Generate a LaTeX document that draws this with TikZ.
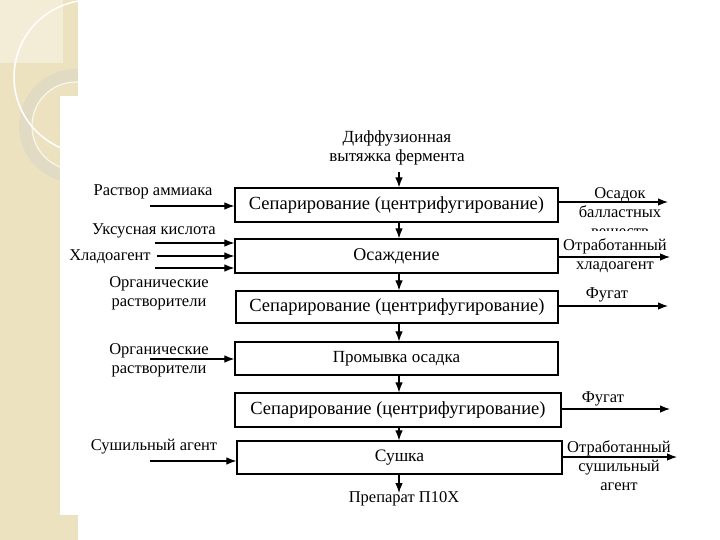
\documentclass[tikz,border=0pt]{standalone}
\usepackage{fontspec}
\setmainfont{Liberation Serif}
\usetikzlibrary{arrows.meta}
\definecolor{beige}{RGB}{237,226,192}
\definecolor{beigelight}{RGB}{243,236,214}
\definecolor{ringcol}{RGB}{226,219,196}
\newcommand\mlab[1]{\begin{tabular}[t]{@{}c@{}}#1\end{tabular}}
\begin{document}
\begin{tikzpicture}[x=1pt,y=-1pt,
  font=\fontsize{16.5}{19}\selectfont,
  box/.style={draw, line width=1.2pt, inner sep=0pt, minimum height=34pt},
  sepfont/.style={font=\fontsize{18.5}{21}\selectfont},
  lab/.style={anchor=base, inner sep=0pt},
  arr/.style={line width=1.1pt, -{Latex[length=10pt,width=7.5pt]}}]
\useasboundingbox (0,0) rectangle (720,540);
% background decoration
\fill[white] (0,0) rectangle (720,540);
\fill[beige] (0,0) rectangle (78,540);
\fill[beigelight] (0,0) rectangle (63,63);
\fill[ringcol, even odd rule] (76,126) circle (57) (76,126) circle (44);
\draw[white!70!beige, line width=1.2pt] (76,126) circle (44);
\draw[white, line width=1.5pt] (91,77) circle (77);
\fill[white] (78,0) rectangle (720,540);
\fill[white] (60,96) rectangle (78,515);

% process boxes
\node[box, sepfont, minimum width=323pt] (b1) at (396.5,205) {Сепарирование (центрифугирование)};
\node[box, font=\fontsize{18}{21}\selectfont, minimum width=323pt] (b2) at (396.5,256) {Осаждение};
\node[box, sepfont, minimum width=322pt, minimum height=32pt] (b3) at (397,307) {Сепарирование (центрифугирование)};
\node[box, font=\fontsize{17}{20}\selectfont, minimum width=323pt, minimum height=33pt] (b4) at (396.5,358.5) {Промывка осадка};
\node[box, sepfont, minimum width=326pt] (b5) at (398,410) {Сепарирование (центрифугирование)};
\node[box, font=\fontsize{17.5}{20}\selectfont, minimum width=325pt, minimum height=33pt] (b6) at (399.5,457.5) {Сушка};

% top and bottom
\node[lab, font=\fontsize{17}{19}\selectfont] (top) at (397,143) {\mlab{Диффузионная\\вытяжка фермента}};
\node[lab] (bot) at (404,502) {Препарат П10Х};
\coordinate (cx) at (399,0);
\coordinate (t0) at (399,172);
\coordinate (bt) at (399,493);
\draw[arr] (t0) -- (b1.north -| cx);
\draw[arr] (b1.south -| cx) -- (b2.north -| cx);
\draw[arr] (b2.south -| cx) -- (b3.north -| cx);
\draw[arr] (b3.south -| cx) -- (b4.north -| cx);
\draw[arr] (b4.south -| cx) -- (b5.north -| cx);
\draw[arr] (b5.south -| cx) -- (b6.north -| cx);
\draw[arr] (b6.south -| cx) -- (bt);

% left inputs
\node[lab] (l1) at (153,196) {Раствор аммиака};
\node[lab] (l2) at (154,235) {Уксусная кислота};
\node[lab] (l3) at (110,260) {Хладоагент};
\node[lab] (l4) at (159,287) {\mlab{Органические\\растворители}};
\node[lab] (l5) at (159,354) {\mlab{Органические\\растворители}};
\node[lab] (l6) at (154,450) {Сушильный агент};
\coordinate (i1) at (150,206);
\coordinate (i2) at (155,243);
\coordinate (i3) at (157,256);
\coordinate (i4) at (155,268);
\coordinate (i5) at (150,359);
\coordinate (i6) at (150,461);
\draw[arr] (i1) -- (i1 -| b1.west);
\draw[arr] (i2) -- (i2 -| b2.west);
\draw[arr] (i3) -- (i3 -| b2.west);
\draw[arr] (i4) -- (i4 -| b2.west);
\draw[arr] (i5) -- (i5 -| b4.west);
\draw[arr] (i6) -- (i6 -| b6.west);

% right outputs
\node[lab] (r1) at (620,199) {\mlab{Осадок\\балластных\\веществ}};
\node[lab, fill=white, inner xsep=2pt, inner ysep=5.5pt] (r2) at (615,250) {\mlab{Отработанный\\хладоагент}};
\node[lab] (r3) at (607,298) {Фугат};
\node[lab] (r5) at (603,402) {Фугат};
\node[lab] (r6) at (619,452) {\mlab{Отработанный\\сушильный\\агент}};
\coordinate (o1) at (668,202);
\coordinate (o2) at (670,257);
\coordinate (o3) at (668,306);
\coordinate (o5) at (670,409);
\coordinate (o6) at (677,457);
\draw[arr] (b1.east |- o1) -- (o1);
\draw[arr] (b2.east |- o2) -- (o2);
\draw[arr] (b3.east |- o3) -- (o3);
\draw[arr] (b5.east |- o5) -- (o5);
\draw[arr] (b6.east |- o6) -- (o6);
\end{tikzpicture}
\end{document}
